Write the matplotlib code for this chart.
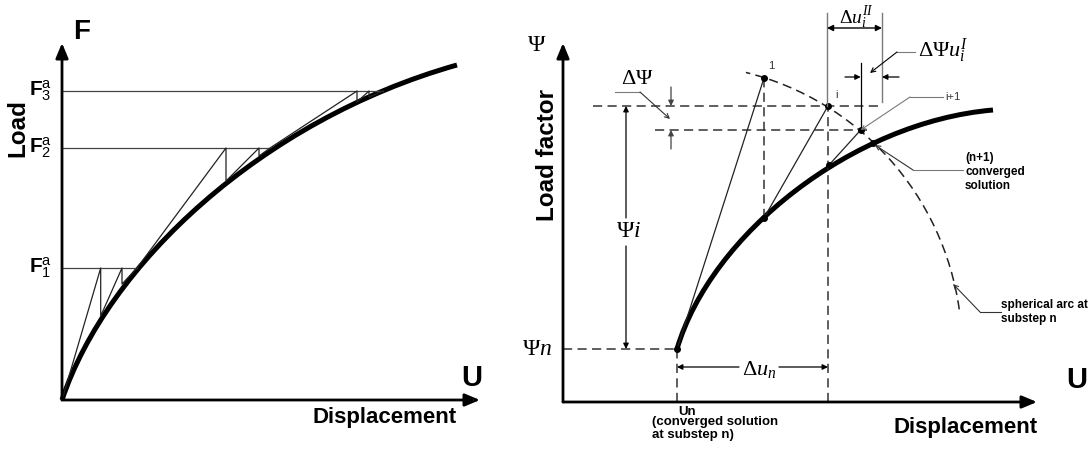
import matplotlib
matplotlib.use('Agg')
import matplotlib.pyplot as plt
from matplotlib.patches import Arc, PathPatch
from matplotlib.path import Path

plt.rcParams['font.family'] = ['Liberation Sans', 'DejaVu Sans']
plt.rcParams['mathtext.fontset'] = 'custom'
plt.rcParams['mathtext.rm'] = 'Liberation Serif'
plt.rcParams['mathtext.it'] = 'Liberation Serif:italic'
plt.rcParams['mathtext.bf'] = 'Liberation Sans:bold'
plt.rcParams['mathtext.sf'] = 'Liberation Sans'

# ---- left: full Newton-Raphson under fixed load increments ----
# load-displacement response, cubic Bezier control points
curve_u = [0, 45, 200, 395]
curve_f = [0, 135, 280, 335]
load_levels = [132, 252, 309]
level_ends = [75, 208, 321]
level_names = ['1', '2', '3']
# tangent / drop path of the equilibrium iterations
nr_u = [0, 38.7, 38.7, 60, 60, 75, 164, 164, 197, 197, 208, 295, 295, 307, 307, 321]
nr_f = [0, 132, 84, 132, 116, 132, 252, 219, 252, 244, 252, 309, 298, 309, 303, 309]

# ---- right: arc-length method ----
path_u = [114, 148, 290, 430]
path_psi = [53, 168, 280, 292]
psi_n = (114, 53)
iter_u = [201, 265, 297.7]      # points 1, i, i+1 on the arc
iter_psi = [324, 296, 272]
base_u = [114, 201, 266]        # where each iteration starts on the curve
base_psi = [53, 184, 237]
conv_u, conv_psi = 310, 259
arc_radius = 285

DASH = (0, (6, 3.5))
GREY = '#7a7a7a'


def arrow(ax, tail, tip, color='k', lw=1.0, style='-|>', ms=10):
    ax.annotate('', xy=tip, xytext=tail,
                arrowprops=dict(arrowstyle=style, color=color, lw=lw,
                                mutation_scale=ms, shrinkA=0, shrinkB=0))


def axis_arrows(ax, xend, ytop):
    style = '-|>,head_length=0.6,head_width=0.25'
    arrow(ax, (0, 0), (xend, 0), lw=2, style=style, ms=15)
    arrow(ax, (0, 0), (0, ytop), lw=2, style=style, ms=15)


def bezier(ax, xs, ys, lw=3.6):
    verts = list(zip(xs, ys))
    codes = [Path.MOVETO, Path.CURVE4, Path.CURVE4, Path.CURVE4]
    ax.add_patch(PathPatch(Path(verts, codes), fill=False, color='k', lw=lw,
                           capstyle='butt'))


fig = plt.figure(figsize=(10.88, 4.5), dpi=100)

# left axes: 1 data unit = 1 pixel, origin at the axis corner
ax1 = fig.add_axes([0, 0, 540 / 1088, 1])
ax1.set_xlim(-62, 478)
ax1.set_ylim(-50, 400)
ax1.axis('off')

axis_arrows(ax1, 418, 357)
for lvl, end, name in zip(load_levels, level_ends, level_names):
    ax1.plot([0, end], [lvl, lvl], color='#444', lw=0.9)
    ax1.text(-10, lvl, r'$\mathbf{F}^{\mathsf{a}}_{\mathsf{' + name + '}}$',
             fontsize=15, ha='right', va='center')
ax1.plot(nr_u, nr_f, color='#222', lw=0.9)
bezier(ax1, curve_u, curve_f)

ax1.text(20, 368, 'F', fontsize=20, fontweight='bold', ha='center', va='center')
ax1.text(410, 22, 'U', fontsize=21, fontweight='bold', ha='center', va='center')
ax1.text(323, -17, 'Displacement', fontsize=16, fontweight='bold', ha='center', va='center')
ax1.text(-44, 272, 'Load', fontsize=17.5, fontweight='bold', rotation=90,
         ha='center', va='center')

# right axes
ax2 = fig.add_axes([540 / 1088, 0, 548 / 1088, 1])
ax2.set_xlim(-23, 525)
ax2.set_ylim(-48, 402)
ax2.axis('off')

axis_arrows(ax2, 474, 359)

# spherical arc centred on the converged point of substep n
ax2.add_patch(Arc(psi_n, 2 * arc_radius, 2 * arc_radius, theta1=8, theta2=76,
                  color='#222', lw=1.1, linestyle=DASH))

# dashed reference lines
ax2.plot([0, psi_n[0]], [psi_n[1], psi_n[1]], color='#333', lw=1.1, linestyle=DASH)
ax2.plot([psi_n[0], psi_n[0]], [0, psi_n[1]], color='#333', lw=1.1, linestyle=DASH)
ax2.plot([iter_u[0], iter_u[0]], [base_psi[1], iter_psi[0]], color='#333', lw=1.1, linestyle=DASH)
ax2.plot([iter_u[1], iter_u[1]], [0, iter_psi[1]], color='#333', lw=1.1, linestyle=DASH)
ax2.plot([30, 319], [iter_psi[1], iter_psi[1]], color='#333', lw=1.1, linestyle=DASH)
ax2.plot([92, 304], [iter_psi[2], iter_psi[2]], color='#333', lw=1.1, linestyle=DASH)

# iteration lines
for bu, bp, iu, ip in zip(base_u, base_psi, iter_u, iter_psi):
    ax2.plot([bu, iu], [bp, ip], color='#222', lw=0.9)

bezier(ax2, path_u, path_psi)
ax2.plot(base_u + iter_u + [conv_u], base_psi + iter_psi + [conv_psi], 'o',
         color='k', ms=4)

# point labels
ax2.text(205, 333, '1', fontsize=8, color='#333')
ax2.text(272, 304, 'i', fontsize=8, color='#333')
ax2.text(382, 305, 'i+1', fontsize=8, color='#333', va='center')
ax2.plot([380, 347], [305, 305], color=GREY, lw=0.8)
arrow(ax2, (347, 305), (iter_u[2], iter_psi[2]), color=GREY, lw=0.8, style='->', ms=7)

# Delta u_i^II dimension
ax2.plot([264, 264], [296, 389], color=GREY, lw=1.0)
ax2.plot([319, 319], [300, 389], color=GREY, lw=1.0)
arrow(ax2, (264, 374), (319, 374), lw=1.0, style='<|-|>', ms=9)
ax2.text(293, 384, r'$\Delta u_i^{II}$', fontsize=14, ha='center', va='center')

# Delta Psi u_i^I dimension
ax2.plot([iter_u[2], iter_u[2]], [iter_psi[2], 339], color='k', lw=0.9)
arrow(ax2, (282, 325), (iter_u[2], 325), lw=0.9, ms=8)
arrow(ax2, (336, 325), (319, 325), lw=0.9, ms=8)
ax2.text(380, 351, r'$\Delta\Psi u_i^{I}$', fontsize=16, ha='center', va='center')
ax2.plot([352, 334], [350, 350], color=GREY, lw=0.8)
arrow(ax2, (334, 350), (307, 329), lw=0.8, style='->', ms=8)

# Delta Psi between iterates
arrow(ax2, (108, 315), (108, 296), color='#444', lw=0.9, ms=8)
arrow(ax2, (108, 253), (108, 272), color='#444', lw=0.9, ms=8)
ax2.text(74, 323, r'$\Delta\Psi$', fontsize=16, ha='center', va='center')
ax2.plot([52, 77], [310, 310], color=GREY, lw=0.8)
arrow(ax2, (77, 310), (107, 283), color='#333', lw=0.8, style='->', ms=8)

# Psi i
arrow(ax2, (63, 184), (63, iter_psi[1]), lw=0.9, ms=8)
arrow(ax2, (63, 156), (63, psi_n[1]), lw=0.9, ms=8)
ax2.text(66, 171, r'$\Psi i$', fontsize=17, ha='center', va='center')

# Delta u_n
arrow(ax2, (176, 35), (psi_n[0], 35), lw=0.9, ms=8)
arrow(ax2, (216, 35), (iter_u[1], 35), lw=0.9, ms=8)
ax2.text(196, 33, r'$\Delta u_n$', fontsize=16, ha='center', va='center')

# converged solution / arc notes
ax2.text(402, 230, '(n+1)\nconverged\nsolution', fontsize=8.5, fontweight='bold',
         ha='left', va='center', linespacing=1.2)
ax2.plot([400, 350], [232, 232], color=GREY, lw=0.8)
arrow(ax2, (350, 232), (conv_u + 2, conv_psi - 2), color='#333', lw=0.8, style='->', ms=8)

ax2.text(438, 90, 'spherical arc at\nsubstep n', fontsize=8.5, fontweight='bold',
         ha='left', va='center', linespacing=1.2)
ax2.plot([438, 417], [90, 90], color='#333', lw=0.8)
arrow(ax2, (417, 90), (390, 118), color='#333', lw=0.8, style='->', ms=8)

ax2.text(115, -4, 'Un', fontsize=9.5, fontweight='bold', ha='left', va='top')
ax2.text(89, -14, '(converged solution\nat substep n)', fontsize=9.5,
         fontweight='bold', ha='left', va='top', linespacing=1.15)

ax2.text(-26, 53, r'$\Psi n$', fontsize=17, ha='center', va='center')
ax2.text(-26, 357, r'$\Psi$', fontsize=17, ha='center', va='center')
ax2.text(-16, 247, 'Load factor', fontsize=17.5, fontweight='bold', rotation=90,
         ha='center', va='center')
ax2.text(403, -26, 'Displacement', fontsize=16, fontweight='bold', ha='center', va='center')
ax2.text(514, 22, 'U', fontsize=21, fontweight='bold', ha='center', va='center')

fig.savefig('out.png', dpi=100)
